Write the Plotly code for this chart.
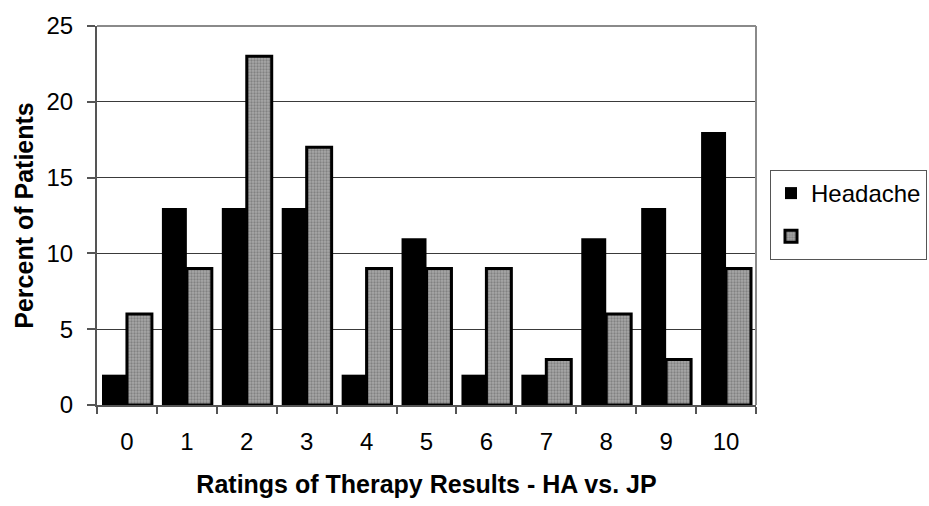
import plotly.graph_objects as go

# Ratings 0-10 and percent of patients per rating
ratings = ["0", "1", "2", "3", "4", "5", "6", "7", "8", "9", "10"]
headache = [2, 13, 13, 13, 2, 11, 2, 2, 11, 13, 18]
jp = [6, 9, 23, 17, 9, 9, 9, 3, 6, 3, 9]
y_ticks = [0, 5, 10, 15, 20, 25]

FONT = "Liberation Sans, Arial, sans-serif"

fig = go.Figure()
fig.add_trace(go.Bar(
    x=ratings, y=headache, name="Headache", legendgroup="a",
    marker=dict(color="#000000", line=dict(color="#000000", width=0)),
))
fig.add_trace(go.Bar(
    x=ratings, y=jp, name=" ", legendgroup="b",
    marker=dict(
        color="#8a8a8a",
        line=dict(color="#000000", width=3),
        pattern=dict(shape=".", fgcolor="#5a5a5a", bgcolor="#a8a8a8",
                     size=3, solidity=0.45),
    ),
))

fig.update_layout(
    width=929, height=506,
    margin=dict(l=97, r=173, t=20, b=100),
    paper_bgcolor="white", plot_bgcolor="white",
    barmode="group", bargap=0.167, bargroupgap=0.0,
    font=dict(family=FONT, size=24, color="black"),
    showlegend=True,
    legend=dict(
        xref="container", yref="container",
        x=770 / 929, y=1 - 170 / 506, xanchor="left", yanchor="top",
        bordercolor="#555555", borderwidth=1, bgcolor="white",
        font=dict(family=FONT, size=24, color="black"),
        traceorder="grouped", tracegroupgap=9,
        itemwidth=30,
    ),
    xaxis=dict(
        type="category", tickson="boundaries", ticks="outside",
        ticklen=7, tickcolor="#555555", tickwidth=1.5,
        showline=True, linecolor="#555555", linewidth=1.5,
        showgrid=False,
        tickfont=dict(size=24), ticklabelstandoff=14,
        title=dict(text="<b>Ratings of Therapy Results - HA vs. JP</b>",
                   font=dict(size=25), standoff=22),
    ),
    yaxis=dict(
        range=[0, 25], tickvals=y_ticks, ticks="outside",
        ticklen=8, tickcolor="#555555", tickwidth=1.5,
        showline=True, linecolor="#555555", linewidth=2,
        showgrid=True, gridcolor="#3a3a3a", gridwidth=1,
        zeroline=False,
        tickfont=dict(size=24), ticklabelstandoff=9,
        title=dict(text="<b>Percent of Patients</b>",
                   font=dict(size=25), standoff=6),
    ),
)

# top and right frame lines of the plot area
fig.add_shape(type="line", xref="paper", yref="paper",
              x0=0, x1=1, y0=1, y1=1, line=dict(color="#8a8a8a", width=2))
fig.add_shape(type="line", xref="paper", yref="paper",
              x0=1, x1=1, y0=0, y1=1, line=dict(color="#8a8a8a", width=2))

fig.write_html("out.html")
